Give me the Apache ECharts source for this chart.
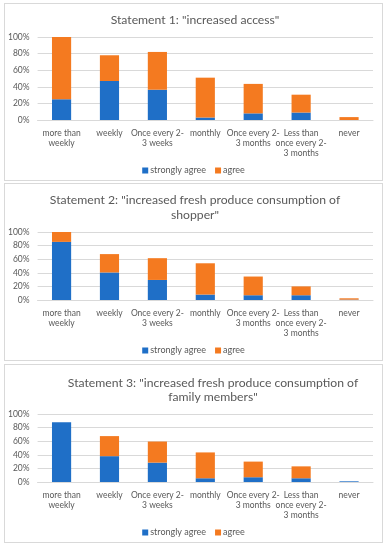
<!DOCTYPE html>
<html><head><meta charset="utf-8">
<script src="https://cdn.jsdelivr.net/npm/echarts@6/dist/echarts.min.js"></script>
<style>
html,body{margin:0;padding:0;background:#fff;width:390px;height:550px;overflow:hidden;}
.p{position:absolute;left:4px;width:379px;height:178px;border:1px solid #d9d9d9;box-sizing:border-box;}
</style></head><body>
<div id="c1" class="p" style="top:3px"></div>
<div id="c2" class="p" style="top:183px"></div>
<div id="c3" class="p" style="top:364px;height:179px"></div>
<script>
var categories = ["more than weekly","weekly","Once every 2-3 weeks","monthly","Once every 2-3 months","Less than once every 2-3 months","never"];
var categoryLabels = ["more than\nweekly","weekly","Once every 2-\n3 weeks","monthly","Once every 2-\n3 months","Less than\nonce every 2-\n3 months","never"];
var seriesNames = ["strongly agree","agree"];
var titles = ["Statement 1: \"increased access\"",
  "Statement 2: \"increased fresh produce consumption of\nshopper\"",
  "Statement 3: \"increased fresh produce consumption of\nfamily members\""];
var s1Strongly = [25, 47, 36.5, 3, 8, 9, 0];
var s1Agree    = [75, 31, 45.5, 48, 35.5, 21.5, 3.5];
var s2Strongly = [85.5, 40.5, 29.5, 8, 7, 7, 0.5];
var s2Agree    = [14.5, 27, 32, 46, 27.5, 13, 2];
var s3Strongly = [88, 38, 28.5, 5.5, 7, 5.5, 1];
var s3Agree    = [0, 29.5, 31, 38, 23, 17.5, 0];
var yTicks = [0, 20, 40, 60, 80, 100];

var FONT = "Lato";
var BLUE = "#1f6fc7", ORANGE = "#f47a20";
var labelMap = {};
categories.forEach(function(c,i){labelMap[c]=categoryLabels[i];});

function build(el, title, sa, ag, cfg){
  var chart = echarts.init(document.getElementById(el), null, {renderer:'canvas'});
  chart.setOption({
    animation:false,
    textStyle:{fontFamily:FONT},
    title:{text:title,left:cfg.titleLeft,top:cfg.titleTop,textAlign:'center',padding:0,
      textStyle:{fontFamily:FONT,fontSize:12.2,fontWeight:'normal',color:'#595959',lineHeight:14.5}},
    legend:{data:seriesNames,bottom:5,left:'center',itemWidth:6,itemHeight:6,itemGap:9,
      icon:'rect',textStyle:{fontFamily:FONT,fontSize:9,color:'#595959',padding:[0,0,0,-3]},padding:0},
    grid:{left:32,right:9,top:cfg.gridTop,bottom:60},
    xAxis:{type:'category',data:categories,
      axisLine:{lineStyle:{color:'#d9d9d9'}},axisTick:{show:false},
      axisLabel:{interval:0,fontSize:8.5,color:'#595959',lineHeight:10,margin:8,
        formatter:function(v){return labelMap[v];}}},
    yAxis:{type:'value',min:yTicks[0],max:yTicks[yTicks.length-1],interval:yTicks[1]-yTicks[0],
      axisLine:{show:false},axisTick:{show:false},
      splitLine:{lineStyle:{color:'#d9d9d9'}},
      axisLabel:{fontSize:8.5,color:'#595959',margin:8,formatter:'{value}%'}},
    series:[
      {name:seriesNames[0],type:'bar',stack:'a',data:sa,barWidth:'40%',itemStyle:{color:BLUE}},
      {name:seriesNames[1],type:'bar',stack:'a',data:ag,barWidth:'40%',itemStyle:{color:ORANGE}}
    ]
  });
}
build('c1', titles[0], s1Strongly, s1Agree, {titleLeft:190, titleTop:9, gridTop:33});
build('c2', titles[1], s2Strongly, s2Agree, {titleLeft:190, titleTop:9, gridTop:48});
build('c3', titles[2], s3Strongly, s3Agree, {titleLeft:208, titleTop:10.5, gridTop:49});
</script>
</body></html>
